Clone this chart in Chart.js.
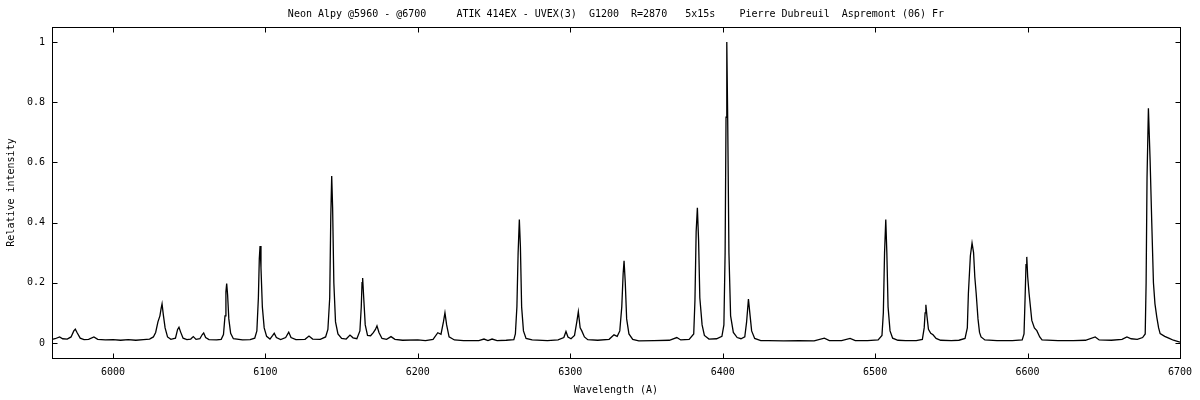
<!DOCTYPE html>
<html lang="en">
<head>
    <meta charset="UTF-8" />
    <title>Neon Alpy @5960 - @6700</title>
    <script src="https://cdn.jsdelivr.net/npm/chart.js"></script>
    <style>
        body { margin: 0; background: #fff; }
    </style>
</head>
<body>
    <canvas id="spectrumChart" width="1200" height="400"></canvas>

    <script>
        // spectrum: wavelength (A) and relative intensity, one line per region
        const wavelength = [
            5960, 5962, 5965, 5967, 5970, 5972.5, 5974.3, 5975.3, 5976.5, 5978.5, 5981, 5984, 5987.5, 5990, 5995,
            6000, 6005, 6010, 6015, 6020, 6024, 6026.5, 6028, 6029.5, 6030.8, 6031.6, 6032.2, 6033, 6034.2, 6035.8, 6038,
            6041, 6042.4, 6043.3, 6044.4, 6046, 6048.5, 6051, 6052.7, 6054.5, 6057, 6058.6, 6059.5, 6060.8, 6063, 6068, 6071,
            6072.5, 6073.5, 6074.1, 6074.6, 6075.2, 6076, 6077.2, 6079, 6085, 6090, 6093,
            6094.4, 6095.4, 6096, 6096.5, 6097.1, 6098, 6099.2, 6100.8, 6103, 6104.8, 6105.8, 6107.2, 6110, 6113.3, 6115.3, 6116.8, 6120, 6126, 6128.6, 6131, 6136, 6139.5,
            6141, 6142.2, 6142.9, 6143.5, 6144.1, 6144.9, 6146, 6147.6, 6150, 6153, 6155.5, 6157.5, 6160, 6162,
            6162.9, 6163.4, 6163.8, 6164.5, 6165.5, 6167, 6169, 6170.8, 6172.2, 6173.2, 6174.5, 6176.5, 6179.5, 6182.4, 6185, 6190, 6200, 6205, 6210,
            6213.1, 6215.2, 6216.8, 6217.8, 6218.9, 6220.5, 6224, 6230, 6240, 6243.4, 6246, 6248.7, 6252, 6258, 6263,
            6264, 6265, 6265.8, 6266.6, 6267.3, 6268.1, 6269.3, 6271, 6275, 6285, 6292, 6295.8,
            6297.2, 6298.5, 6300.5, 6302.8, 6304.3, 6305.3, 6306.5, 6307.5, 6309.3, 6311.5, 6318, 6325.5, 6328.7, 6330.8, 6332.5,
            6333.8, 6334.7, 6335.3, 6336.1, 6337, 6338.5, 6341, 6345, 6355, 6365, 6369.9, 6372.5, 6378, 6381,
            6381.8, 6382.6, 6383.4, 6384.2, 6385, 6386.5, 6388, 6391, 6396, 6399.5,
            6400.8, 6401.6, 6402.2, 6402.7, 6403.3, 6404.1, 6405.2, 6407, 6409.5, 6412, 6414.5, 6415.7, 6416.9, 6417.8, 6419, 6421, 6425,
            6430, 6440, 6450, 6460, 6466.7, 6470, 6478, 6483.6, 6487, 6495, 6502, 6504.5,
            6505.4, 6506.2, 6507, 6507.7, 6508.5, 6509.8, 6511.5, 6515, 6520, 6527, 6531,
            6532.2, 6532.8, 6533.3, 6534, 6535, 6536.5, 6538, 6540, 6543, 6550, 6555,
            6559, 6560.5, 6561.2, 6562.5, 6563.6, 6564.6, 6565.4, 6566.3, 6567.5, 6568.5, 6569.5, 6572, 6580, 6590, 6596.5,
            6597.7, 6598.4, 6599, 6599.5, 6600.1, 6601, 6602.8, 6604.5, 6606.1, 6608, 6609.5, 6620, 6630, 6638,
            6644.4, 6647, 6655, 6662, 6665.2, 6668, 6672, 6675.5, 6677.2, 6677.8, 6678.4, 6679.3, 6680.4, 6681.5, 6682.6, 6683.6, 6684.8, 6686, 6687, 6690, 6693, 6695.7, 6700
        ];
        const intensity = [
            0.012, 0.014, 0.02, 0.014, 0.013, 0.02, 0.04, 0.046, 0.034, 0.016, 0.011, 0.012, 0.02, 0.012, 0.01,
            0.011, 0.009, 0.011, 0.009, 0.011, 0.013, 0.02, 0.035, 0.07, 0.09, 0.115, 0.13, 0.095, 0.05, 0.02, 0.012,
            0.016, 0.045, 0.052, 0.036, 0.016, 0.011, 0.013, 0.021, 0.012, 0.014, 0.028, 0.033, 0.018, 0.011, 0.01, 0.012,
            0.028, 0.09, 0.17, 0.197, 0.16, 0.08, 0.032, 0.014, 0.01, 0.011, 0.016,
            0.04, 0.15, 0.28, 0.322, 0.25, 0.12, 0.05, 0.022, 0.013, 0.025, 0.032, 0.018, 0.011, 0.018, 0.036, 0.018, 0.011, 0.012, 0.023, 0.013, 0.012, 0.02,
            0.045, 0.15, 0.42, 0.555, 0.45, 0.2, 0.07, 0.03, 0.015, 0.013, 0.026, 0.017, 0.014, 0.04,
            0.12, 0.2, 0.216, 0.15, 0.06, 0.025, 0.024, 0.034, 0.045, 0.057, 0.035, 0.015, 0.012, 0.021, 0.012, 0.009, 0.01, 0.008, 0.012,
            0.034, 0.029, 0.07, 0.1, 0.06, 0.02, 0.01, 0.008, 0.008, 0.013, 0.008, 0.013, 0.008, 0.009, 0.011,
            0.03, 0.12, 0.3, 0.41, 0.32, 0.12, 0.04, 0.015, 0.01, 0.008, 0.01, 0.018,
            0.038, 0.02, 0.014, 0.025, 0.07, 0.104, 0.05, 0.041, 0.02, 0.011, 0.009, 0.012, 0.027, 0.022, 0.04,
            0.12, 0.23, 0.273, 0.2, 0.08, 0.03, 0.012, 0.007, 0.008, 0.009, 0.018, 0.01, 0.012, 0.03,
            0.14, 0.37, 0.449, 0.34, 0.15, 0.06, 0.025, 0.013, 0.014, 0.022,
            0.06, 0.3, 0.75, 1.0, 0.74, 0.3, 0.09, 0.035, 0.018, 0.014, 0.02, 0.07, 0.146, 0.1, 0.04, 0.015, 0.008,
            0.008, 0.007, 0.008, 0.007, 0.016, 0.008, 0.008, 0.015, 0.008, 0.008, 0.01, 0.025,
            0.1, 0.3, 0.41, 0.3, 0.12, 0.04, 0.016, 0.009, 0.008, 0.008, 0.012,
            0.05, 0.1, 0.127, 0.09, 0.045, 0.032, 0.027, 0.015, 0.009, 0.008, 0.009,
            0.015, 0.05, 0.165, 0.29, 0.332, 0.3, 0.22, 0.165, 0.08, 0.035, 0.02, 0.01, 0.008, 0.008, 0.01,
            0.03, 0.15, 0.26, 0.286, 0.22, 0.165, 0.075, 0.05, 0.041, 0.02, 0.01, 0.008, 0.008, 0.009,
            0.02, 0.01, 0.009, 0.012, 0.02, 0.014, 0.012, 0.018, 0.03, 0.2, 0.55, 0.78, 0.61, 0.4, 0.2, 0.13, 0.086, 0.05, 0.031, 0.022, 0.015, 0.009, 0.003
        ];

        const xTicks = [6000, 6100, 6200, 6300, 6400, 6500, 6600, 6700];
        const yTicks = [0, 0.2, 0.4, 0.6, 0.8, 1];

        const titleText = "Neon Alpy @5960 - @6700     ATIK 414EX - UVEX(3)  G1200  R=2870   5x15s    Pierre Dubreuil  Aspremont (06) Fr";
        const xTitle = "Wavelength (A)";
        const yTitle = "Relative intensity";

        const monoFont = { family: "'DejaVu Sans Mono', monospace", size: 10, weight: 'normal', lineHeight: 1.2 };

        // gnuplot-like frame with short inward ticks on all four sides
        const framePlugin = {
            id: 'frame',
            afterDatasetsDraw(chart) {
                const { ctx, chartArea: a, scales } = chart;
                const l = Math.round(a.left) + 0.5, r = Math.round(a.right) + 0.5;
                const t = Math.round(a.top) + 0.5, b = Math.round(a.bottom) + 0.5;
                ctx.save();
                ctx.strokeStyle = '#000';
                ctx.lineWidth = 1;
                ctx.strokeRect(l, t, r - l, b - t);
                ctx.beginPath();
                scales.x.ticks.forEach(tk => {
                    const px = Math.round(scales.x.getPixelForValue(tk.value)) + 0.5;
                    ctx.moveTo(px, b); ctx.lineTo(px, b - 5);
                    ctx.moveTo(px, t); ctx.lineTo(px, t + 5);
                });
                scales.y.ticks.forEach(tk => {
                    const py = Math.round(scales.y.getPixelForValue(tk.value)) + 0.5;
                    ctx.moveTo(l, py); ctx.lineTo(l + 5, py);
                    ctx.moveTo(r, py); ctx.lineTo(r - 5, py);
                });
                ctx.stroke();
                ctx.restore();
            }
        };

        const ctx = document.getElementById("spectrumChart").getContext("2d");

        new Chart(ctx, {
            type: 'line',
            data: {
                datasets: [{
                    data: wavelength.map((w, i) => ({ x: w, y: intensity[i] })),
                    borderColor: '#000',
                    borderWidth: 1.3,
                    pointRadius: 0,
                    tension: 0,
                    fill: false
                }]
            },
            options: {
                responsive: false,
                animation: false,
                layout: { padding: { left: 0, right: 19, top: 0, bottom: 0 } },
                plugins: {
                    legend: { display: false },
                    tooltip: { enabled: false },
                    title: {
                        display: true,
                        text: titleText,
                        fullSize: false,
                        color: '#000',
                        font: monoFont,
                        padding: { top: 8, bottom: 7 }
                    }
                },
                scales: {
                    x: {
                        type: 'linear',
                        min: 5960,
                        max: 6700,
                        afterBuildTicks: s => { s.ticks = xTicks.map(v => ({ value: v })); },
                        afterFit: s => { s.height = 42; },
                        grid: { display: false, drawTicks: false },
                        border: { display: false },
                        ticks: {
                            padding: 8, color: '#000', font: monoFont, maxRotation: 0, autoSkip: false,
                            callback: v => String(v)
                        },
                        title: { display: true, text: xTitle, color: '#000', font: monoFont, padding: { top: 4, bottom: 4 } }
                    },
                    y: {
                        min: -0.05,
                        max: 1.05,
                        afterBuildTicks: s => { s.ticks = yTicks.map(v => ({ value: v })); },
                        afterFit: s => { s.width = 52; },
                        grid: { display: false, drawTicks: false },
                        border: { display: false },
                        ticks: {
                            padding: 7, color: '#000', font: monoFont,
                            callback: v => String(v)
                        },
                        title: { display: true, text: yTitle, color: '#000', font: monoFont, padding: { top: 5, bottom: 0 } }
                    }
                }
            },
            plugins: [framePlugin]
        });
    </script>
</body>
</html>
